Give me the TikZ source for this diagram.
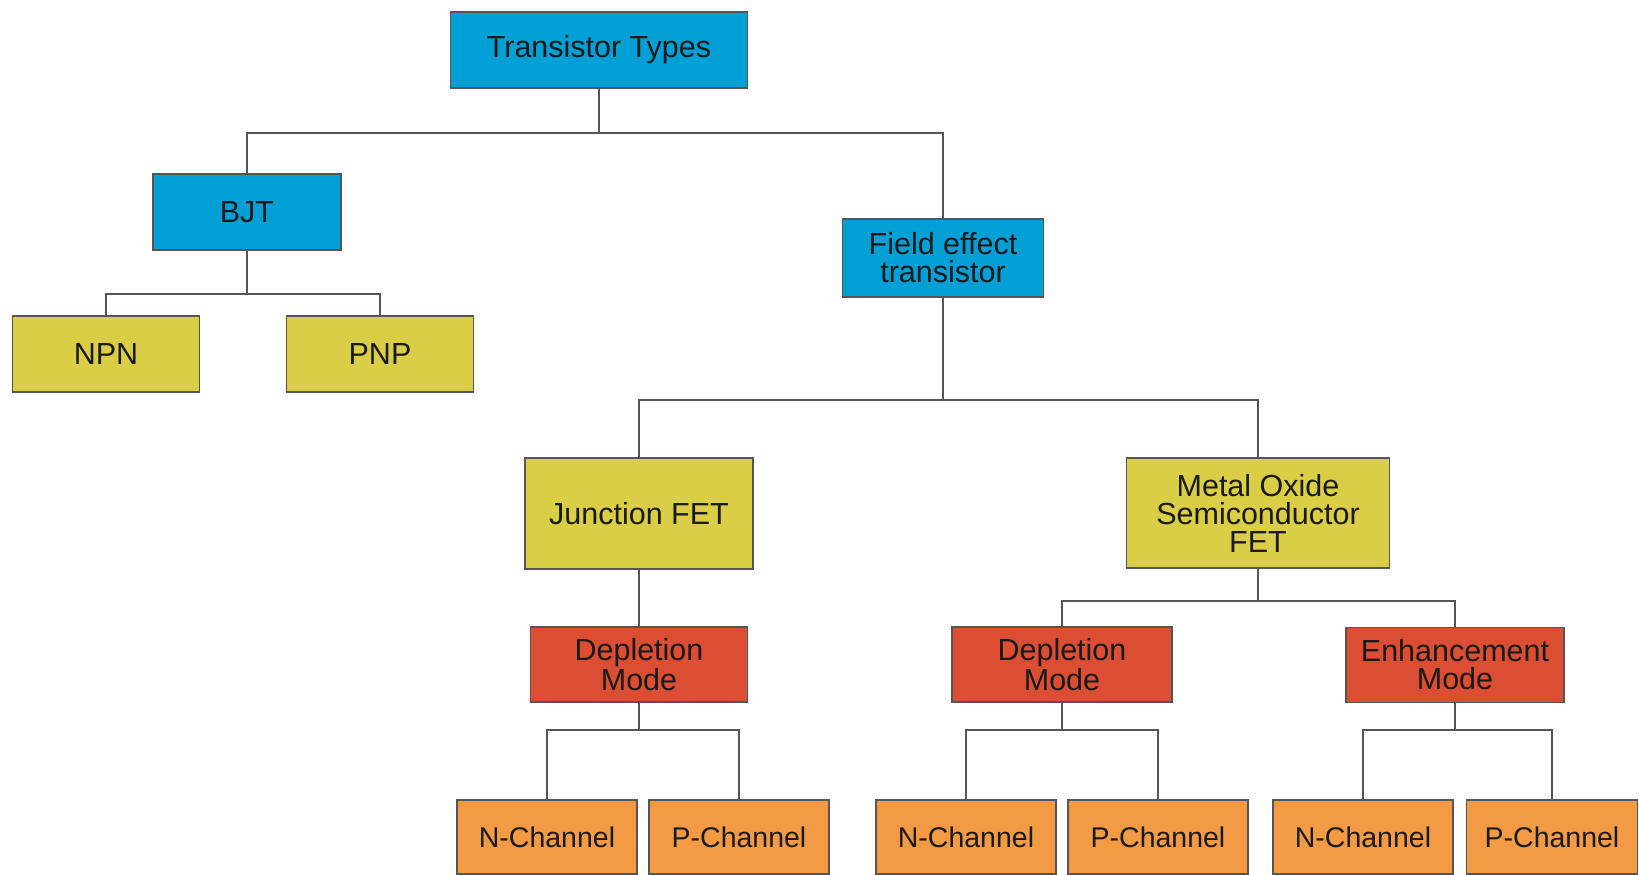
\documentclass[tikz,border=0pt]{standalone}
\usepackage{fontspec}
\setmainfont{Liberation Sans}
\definecolor{cblue}{HTML}{009FD6}
\definecolor{cyel}{HTML}{D9CE45}
\definecolor{cred}{HTML}{DB4E33}
\definecolor{corg}{HTML}{F29A44}
\definecolor{cline}{HTML}{555555}
\definecolor{ctext}{HTML}{1A1A1A}
\begin{document}
\begin{tikzpicture}[x=1pt,y=-1pt,
  box/.style={draw=cline,line width=1.5pt,inner sep=0pt,align=center,
    text=ctext,font=\fontsize{30.5}{28}\selectfont},
  bl/.style={box,fill=cblue},
  yl/.style={box,fill=cyel},
  rd/.style={box,fill=cred},
  og/.style={box,fill=corg,font=\fontsize{28.5}{28}\selectfont},
  conn/.style={draw=cline,line width=2pt}]
\useasboundingbox (0,0) rectangle (1639,875);
\node[bl,minimum width=297pt,minimum height=76pt] (tt) at (599,50) {Transistor Types};
\node[bl,minimum width=188pt,minimum height=76pt] (bjt) at (247,212) {BJT};
\node[yl,minimum width=187pt,minimum height=76pt] (npn) at (106,354) {NPN};
\node[yl,minimum width=187pt,minimum height=76pt] (pnp) at (380,354) {PNP};
\node[bl,minimum width=201pt,minimum height=78pt] (fet) at (943,258) {Field effect\\transistor};
\node[yl,minimum width=228pt,minimum height=111pt] (jfet) at (639,513.5) {Junction FET};
\node[yl,minimum width=263pt,minimum height=110pt] (mos) at (1258,513) {Metal Oxide\\Semiconductor\\FET};
\node[rd,minimum width=217pt,minimum height=75pt] (dep1) at (639,664.5) {Depletion\\Mode};
\node[rd,minimum width=220pt,minimum height=75pt] (dep2) at (1062,664.5) {Depletion\\Mode};
\node[rd,minimum width=218pt,minimum height=75pt] (enh) at (1455,665) {Enhancement\\Mode};
\node[og,minimum width=180pt,minimum height=74pt] (n1) at (547,837) {N-Channel};
\node[og,minimum width=180pt,minimum height=74pt] (p1) at (739,837) {P-Channel};
\node[og,minimum width=180pt,minimum height=74pt] (n2) at (966,837) {N-Channel};
\node[og,minimum width=180pt,minimum height=74pt] (p2) at (1158,837) {P-Channel};
\node[og,minimum width=180pt,minimum height=74pt] (n3) at (1363,837) {N-Channel};
\node[og,minimum width=171pt,minimum height=74pt] (p3) at (1552,837) {P-Channel};
\coordinate (j0) at (599,133);
\coordinate (j1) at (247,294);
\coordinate (j2) at (943,400);
\coordinate (j4) at (1258,601);
\coordinate (j5) at (639,730);
\coordinate (j6) at (1062,730);
\coordinate (j7) at (1455,730);
\draw[conn] (tt.south) -- (j0);
\draw[conn] (bjt.north) |- (j0);
\draw[conn] (fet.north) |- (j0);
\draw[conn] (bjt.south) -- (j1);
\draw[conn] (npn.north) |- (j1);
\draw[conn] (pnp.north) |- (j1);
\draw[conn] (fet.south) -- (j2);
\draw[conn] (jfet.north) |- (j2);
\draw[conn] (mos.north) |- (j2);
\draw[conn] (jfet.south) -- (dep1.north);
\draw[conn] (mos.south) -- (j4);
\draw[conn] (dep2.north) |- (j4);
\draw[conn] (enh.north) |- (j4);
\draw[conn] (dep1.south) -- (j5);
\draw[conn] (n1.north) |- (j5);
\draw[conn] (p1.north) |- (j5);
\draw[conn] (dep2.south) -- (j6);
\draw[conn] (n2.north) |- (j6);
\draw[conn] (p2.north) |- (j6);
\draw[conn] (enh.south) -- (j7);
\draw[conn] (n3.north) |- (j7);
\draw[conn] (p3.north) |- (j7);
\end{tikzpicture}
\end{document}
